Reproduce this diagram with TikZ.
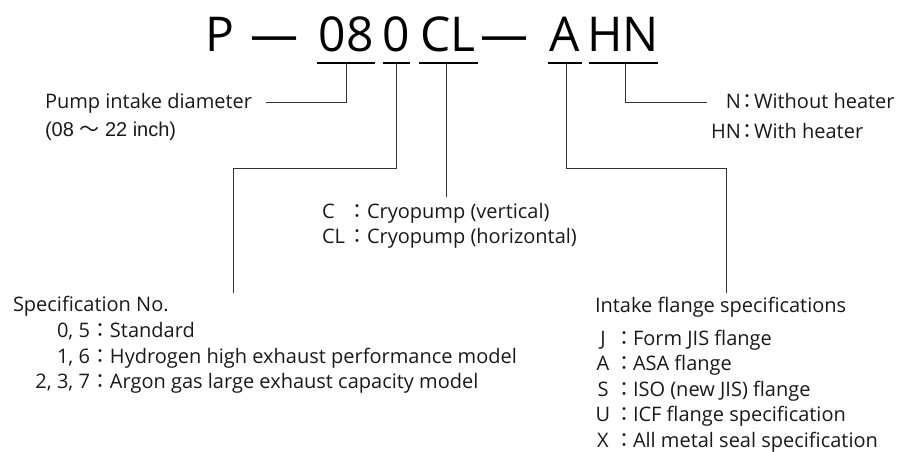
\documentclass[tikz,border=0pt]{standalone}
\usepackage{fontspec}
\setmainfont{Open Sans}
\newfontfamily\cjk{Noto Sans CJK JP}
\newfontfamily\cjkhalf[RawFeature=+halt]{Noto Sans CJK JP}
\newfontfamily\arialfont{Liberation Sans}
\newcommand{\wcol}[1]{\makebox[#1][c]{\cjk ：}}
\newcommand{\hcol}{\kern1.5pt{\cjkhalf ：}\kern1.5pt}
\begin{document}
\begin{tikzpicture}[x=1pt,y=-1pt,
  every node/.style={inner sep=0pt, outer sep=0pt},
  lbl/.style={anchor=base west, font=\fontsize{20}{24}\selectfont, text=black!90},
  ttl/.style={anchor=base, font=\fontsize{48}{48}\selectfont},
  uline/.style={line width=2.4pt, draw=black},
  conn/.style={line width=1pt, draw=black!80}]
\useasboundingbox (0,0) rectangle (900,452);
% title
\node[ttl] (tP)  at (220,52) {P};
\node[ttl] (d1)  at (274,52) {—};
\node[ttl] (t08) at (346,52) {08};
\node[ttl] (t0)  at (396,52) {0};
\node[ttl] (tCL) at (448,52) {CL};
\node[ttl] (d2)  at (504,52) {—};
\node[ttl] (tA)  at (565,52) {A};
\node[ttl] (tHN) at (623,52) {HN};
% underlines
\coordinate (a08) at (317,63); \coordinate (b08) at (375,63); \coordinate (u08) at (346,63);
\coordinate (a0) at (383,63);  \coordinate (b0) at (410,63);  \coordinate (u0) at (396,63);
\coordinate (aCL) at (419,63); \coordinate (bCL) at (478,63); \coordinate (uCL) at (446,63);
\coordinate (aA) at (548,63);  \coordinate (bA) at (582,63);  \coordinate (uA) at (566,63);
\coordinate (aHN) at (589,63); \coordinate (bHN) at (658,63); \coordinate (uHN) at (625,63);
\draw[uline] (a08) -- (b08);
\draw[uline] (a0) -- (b0);
\draw[uline] (aCL) -- (bCL);
\draw[uline] (aA) -- (bA);
\draw[uline] (aHN) -- (bHN);
% labels
\node[lbl] (pump) at (45,108) {Pump intake diameter};
\node[lbl] (pumpr) at (45,136) {\arialfont (08 {\cjk ～} 22 inch)};
\node[lbl] (heatN) at (711,109) {\makebox[30pt][r]{N}\hcol Without heater};
\node[lbl] (heatHN) at (711,138) {\makebox[30pt][r]{HN}\hcol With heater};
\node[lbl] (typC) at (322,218) {\makebox[26pt][l]{C}\wcol{19pt}Cryopump (vertical)};
\node[lbl] (typCL) at (322,243) {\makebox[26pt][l]{CL}\wcol{19pt}Cryopump (horizontal)};
\node[lbl] (spec) at (13,311) {Specification No.};
\node[lbl] (s1) at (30,337) {\makebox[60pt][r]{0, 5}\wcol{20pt}Standard};
\node[lbl] (s2) at (30,363) {\makebox[60pt][r]{1, 6}\wcol{20pt}Hydrogen high exhaust performance model};
\node[lbl] (s3) at (30,388) {\makebox[60pt][r]{2, 3, 7}\wcol{20pt}Argon gas large exhaust capacity model};
\node[lbl] (flg) at (595,312) {Intake flange specifications};
\node[lbl] (f1) at (591,345) {\makebox[24pt][c]{J}\wcol{18pt}Form JIS flange};
\node[lbl] (f2) at (591,370.5) {\makebox[24pt][c]{A}\wcol{18pt}ASA flange};
\node[lbl] (f3) at (591,396) {\makebox[24pt][c]{S}\wcol{18pt}ISO (new JIS) flange};
\node[lbl] (f4) at (591,421.5) {\makebox[24pt][c]{U}\wcol{18pt}ICF flange specification};
\node[lbl] (f5) at (591,447) {\makebox[24pt][c]{X}\wcol{18pt}All metal seal specification};
% connector ends
\coordinate (e08) at (266,102);
\coordinate (e0) at (233,293);
\coordinate (eCL) at (446,197);
\coordinate (eA) at (726,293);
\coordinate (eHN) at (707,102);
\draw[conn] (u08) |- (e08);
\draw[conn] (u0) -- (u0 |- 0,168) -| (e0);
\draw[conn] (uCL) -- (eCL);
\draw[conn] (uA) -- (uA |- 0,168) -| (eA);
\draw[conn] (uHN) |- (eHN);
\end{tikzpicture}
\end{document}
